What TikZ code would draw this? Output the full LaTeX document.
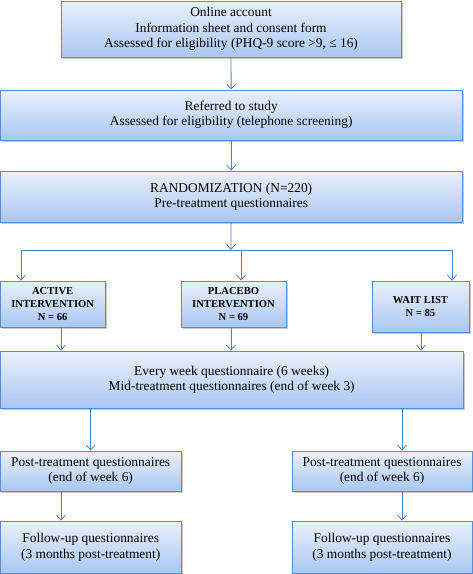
\documentclass[tikz,border=0pt]{standalone}
\usepackage{fontspec}
\setmainfont{Liberation Serif}
\usetikzlibrary{shadows,arrows.meta,calc}
\definecolor{bordc}{HTML}{5B8BD0}
\definecolor{topc}{HTML}{EAF0FB}
\definecolor{botc}{HTML}{A9C7F2}
\definecolor{arrc}{HTML}{4F81BD}
\tikzset{
  boxst/.style={draw=bordc, line width=0.8pt, top color=topc, bottom color=botc,
    align=center, inner sep=0pt, font=\fontsize{13.4}{15.4}\selectfont,
    drop shadow={shadow xshift=1.5pt, shadow yshift=-1.5pt, fill=black!35, opacity=0.6}},
  grpst/.style={boxst, font=\fontsize{10.6}{13}\selectfont\bfseries},
  arr/.style={draw=arrc, line width=0.8pt, -{Straight Barb[length=5pt,width=9pt]}},
  ln/.style={draw=arrc, line width=0.8pt}
}
\newcommand{\boxat}[6]{% name, x1,y1,x2,y2, style ; text follows
  \node[#6, minimum width={(#4-#2)*1pt}, minimum height={(#5-#3)*1pt}] (#1) at ({(#2+#4)/2},{(#3+#5)/2})}
\begin{document}
\begin{tikzpicture}[x=1pt,y=-1pt]
\useasboundingbox (0,0) rectangle (473,574);
\fill[white] (0,0) rectangle (473,574);
\boxat{b1}{61}{1}{401}{57}{boxst} {Online account\\Information sheet and consent form\\Assessed for eligibility (PHQ-9 score >9, ≤ 16)};
\boxat{b2}{0.4}{90}{462}{140}{boxst} {Referred to study\\Assessed for eligibility (telephone screening)};
\boxat{b3}{0.4}{171}{462}{222}{boxst} {RANDOMIZATION (N=220)\\Pre-treatment questionnaires};
\boxat{act}{0.4}{281}{105}{327}{grpst} {ACTIVE\\INTERVENTION\\N = 66};
\boxat{pla}{181}{281}{286}{327}{grpst} {PLACEBO\\INTERVENTION\\N = 69};
\boxat{wai}{372}{281}{469}{332}{grpst} {WAIT LIST\\N = 85};
\boxat{wk}{0.4}{351}{463}{408}{boxst} {Every week questionnaire (6 weeks)\\Mid-treatment questionnaires (end of week 3)};
\boxat{pl}{0.4}{451}{181}{491}{boxst} {Post-treatment questionnaires\\(end of week 6)};
\boxat{pr}{292}{451}{472}{491}{boxst} {Post-treatment questionnaires\\(end of week 6)};
\boxat{fl}{0.4}{521}{181}{573.6}{boxst} {Follow-up questionnaires\\(3 months post-treatment)};
\boxat{fr}{292}{521}{472}{573.6}{boxst} {Follow-up questionnaires\\(3 months post-treatment)};
\coordinate (j) at (231,250);
\coordinate (jl) at (21,250);
\coordinate (jm) at (241,250);
\coordinate (jr) at (452,250);
\draw[arr] (b1) -- (b2);
\draw[arr] (b2) -- (b3);
\draw[arr] (b3) -- (j);
\draw[ln] (jl) -- (jr);
\draw[arr] (jl) -- (jl |- act.north);
\draw[arr] (jm) -- (jm |- pla.north);
\draw[arr] (jr) -- (jr |- wai.north);
\draw[arr] (act.south -| 61,0) -- (wk.north -| 61,0);
\draw[arr] (pla.south -| 231,0) -- (wk.north -| 231,0);
\draw[arr] (wai.south -| 421,0) -- (wk.north -| 421,0);
\draw[arr] (wk.south -| pl) -- (pl);
\draw[arr] (wk.south -| 402,0) -- (pr.north -| 402,0);
\draw[arr] (pl.south -| 61,0) -- (fl.north -| 61,0);
\draw[arr] (pr.south -| 402,0) -- (fr.north -| 402,0);
\end{tikzpicture}
\end{document}
